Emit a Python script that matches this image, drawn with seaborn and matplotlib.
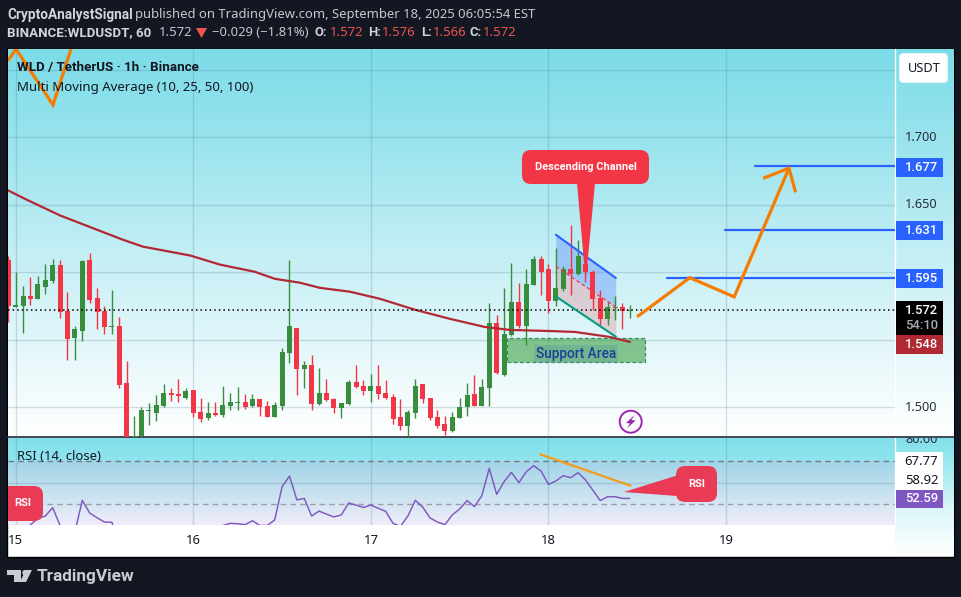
import numpy as np
import pandas as pd
import seaborn as sns
import matplotlib
matplotlib.use("Agg")
import matplotlib.pyplot as plt
from matplotlib.patches import FancyBboxPatch, Polygon, Rectangle, Circle

# ---------- data ----------
hours = list(range(-1, 84))   # hours after 15 Sep 00:00
opens = [1.6094,1.5746,1.5754,1.5826,1.5804,1.5893,1.5937,1.6056,1.5714,1.5513,1.5565,1.6094,1.5811,1.5714,1.5595,1.5603,1.5179,1.4720,1.4784,1.4970,
         1.4955,1.5007,1.5104,1.5097,1.5067,1.5126,1.4963,1.4918,1.4955,1.4940,1.5007,1.5030,1.5037,1.5007,1.5060,1.5007,1.4926,1.5007,1.5402,1.5588,
         1.5283,1.5312,1.5022,1.5104,1.5060,1.4993,1.5022,1.5186,1.5156,1.5119,1.5156,1.5104,1.5074,1.4926,1.4859,1.4955,1.5171,1.5067,1.4926,1.4874,
         1.4821,1.4918,1.5000,1.5097,1.5007,1.5141,1.5625,1.5238,1.5536,1.5781,1.5603,1.5908,1.6101,1.6027,1.5789,1.5878,1.6027,1.5990,1.6064,1.6004,
         1.5811,1.5655,1.5737,1.5744,1.5714]
highs = [1.6120,1.6004,1.5900,1.5967,1.5975,1.6064,1.6101,1.6094,1.5856,1.5603,1.6094,1.6146,1.5885,1.5751,1.5870,1.5670,1.5342,1.4933,1.5000,1.5030,
         1.5089,1.5171,1.5141,1.5208,1.5141,1.5126,1.5067,1.5037,1.5037,1.5156,1.5104,1.5149,1.5097,1.5097,1.5060,1.5045,1.5037,1.5439,1.6094,1.5588,
         1.5342,1.5387,1.5290,1.5208,1.5067,1.5030,1.5201,1.5312,1.5201,1.5246,1.5312,1.5201,1.5097,1.5060,1.4978,1.5208,1.5171,1.5067,1.4978,1.4933,
         1.4963,1.5067,1.5179,1.5238,1.5208,1.5774,1.5684,1.5885,1.6071,1.5923,1.6027,1.6123,1.6123,1.6064,1.6183,1.6049,1.6347,1.6242,1.6118,1.6019,
         1.5870,1.5781,1.5826,1.5774,1.5760]
lows = [1.5635,1.5746,1.5553,1.5761,1.5804,1.5841,1.5923,1.5662,1.5350,1.5350,1.5491,1.5774,1.5580,1.5543,1.5543,1.5141,1.4650,1.4680,1.4767,1.4866,
        1.4896,1.5000,1.5045,1.5037,1.5060,1.4926,1.4888,1.4903,1.4933,1.4926,1.4978,1.4978,1.4985,1.5000,1.4933,1.4926,1.4926,1.4978,1.5327,1.5089,
        1.5141,1.4978,1.5015,1.5045,1.4955,1.4918,1.5015,1.5141,1.5089,1.5037,1.5060,1.5060,1.4874,1.4829,1.4774,1.4918,1.5030,1.4903,1.4844,1.4792,
        1.4814,1.4918,1.4933,1.5007,1.5007,1.5007,1.5246,1.5231,1.5528,1.5588,1.5461,1.5908,1.5833,1.5699,1.5751,1.5863,1.5833,1.5982,1.5930,1.5722,
        1.5610,1.5610,1.5647,1.5580,1.5660]
closes = [1.5754,1.5759,1.5826,1.5804,1.5915,1.5945,1.6056,1.5707,1.5506,1.5580,1.6086,1.5796,1.5707,1.5595,1.5603,1.5164,1.4700,1.4784,1.4978,1.4978,
          1.5015,1.5104,1.5089,1.5082,1.5119,1.4955,1.4911,1.4955,1.4940,1.5015,1.5037,1.5037,1.5000,1.5060,1.5000,1.4926,1.5015,1.5409,1.5603,1.5283,
          1.5312,1.5022,1.5104,1.5052,1.4993,1.5030,1.5186,1.5149,1.5119,1.5156,1.5097,1.5067,1.4911,1.4859,1.4963,1.5156,1.5060,1.4918,1.4859,1.4821,
          1.4926,1.5000,1.5089,1.5007,1.5149,1.5625,1.5253,1.5543,1.5781,1.5603,1.5915,1.6101,1.6004,1.5789,1.5885,1.6027,1.5990,1.6123,1.6004,1.5804,
          1.5655,1.5744,1.5744,1.5714,1.5720]
ma_hours = [-1.04,1.4,6,14.4,17.2,23.6,27.6,32.3,35,38.4,41.1,45.2,49.2,54,58.7,63.4,66.8,72.2,75.6,80.3,83]
ma_vals = [1.6607,1.6540,1.6421,1.6243,1.6190,1.6124,1.6057,1.6004,1.5952,1.5923,1.5885,1.5856,1.5804,1.5722,1.5655,1.5595,1.5573,1.5565,1.5558,1.5521,1.5484]
rsi_hours = list(range(0, 84))
rsi_vals = [30,32,40.4,43.3,44.4,48.3,40,30,37,51.7,45.8,43.6,41.6,41.5,30,20,21,25,27,29,32,31,31,32,30,28,29,30,
            40,41,40.8,40.4,42.2,40,40,42.6,58,63,51.9,52.6,44.4,46.7,45.3,44,44.9,50.5,49.5,48.4,49.5,48,46.6,41,
            39.6,44.4,51.7,48.6,43.5,41.6,40.4,44.9,47.7,51.6,48.8,53.9,66.6,54.5,60.4,64.7,59.9,65,67.8,65.3,59.1,60.7,
            63.2,62.2,64.6,61.2,56.4,51.6,53.4,53.4,52.6,52.6]
day_ticks = [0, 24, 48, 72, 96]
day_labels = ["15", "16", "17", "18", "19"]
price_ticks = [1.5, 1.55, 1.6, 1.65, 1.7, 1.75]
price_labels = ["1.700", "1.650", "1.500"]
level_vals = [1.5960, 1.6315, 1.6790]
level_starts = [88, 95.9, 99.9]
level_labels = ["1.595", "1.631", "1.677"]
forecast_h = [83.96, 91.1, 97.1, 104.5]
forecast_p = [1.5670, 1.5960, 1.5818, 1.6771]
arrow_h = [101, 104.5, 105.4]
arrow_p = [1.6696, 1.6771, 1.6592]
old_h = [-1.04, 0.04, 5.04, 7.47]
old_p = [1.7567, 1.7654, 1.7240, 1.7654]
chan_h = [73, 81.1]
chan_top = [1.6278, 1.5958]
chan_mid = [1.6044, 1.5742]
chan_bot = [1.5821, 1.5523]
support_h = [66.35, 85.1]
support_p = [1.5337, 1.5511]
rsi_trend_h = [70.9, 83.1]
rsi_trend_v = [73.1, 58.5]

# ---------- setup ----------
sns.set_theme(style="white")
plt.rcParams["font.family"] = ["Noto Sans", "DejaVu Sans"]
BOLD = ["Roboto", "DejaVu Sans"]
W, H = 962, 597
DARK = "#131722"
GREEN, RED = "#388e3c", "#f23645"
fig = plt.figure(figsize=(W / 100, H / 100), dpi=100, facecolor=DARK)

def px_axes(x0, y0, x1, y1, z):
    return fig.add_axes([x0 / W, 1 - y1 / H, (x1 - x0) / W, (y1 - y0) / H], zorder=z)

def grad(ax, x0, x1, y0, y1, ys, cols, z=1.5):
    t = np.linspace(y0, y1, 256)
    img = np.stack([np.interp(t, ys, [c[i] for c in cols]) for i in range(3)], axis=1)[:, None, :] / 255
    ax.imshow(img, extent=[x0, x1, y1, y0], aspect="auto", zorder=z, interpolation="bilinear")

# background layer (pixel coordinates)
bg = px_axes(0, 0, W, H, 0)
bg.set_facecolor(DARK)
bg.add_patch(Rectangle((7.5, 48.5), 946.5, 508, fc="white", ec="black", lw=1))
grad(bg, 8, 954, 49, 437, [49, 120, 200, 280, 360, 437],
     [(124, 220, 232), (146, 226, 236), (176, 233, 241), (205, 241, 246), (232, 248, 251), (255, 255, 255)])
grad(bg, 8, 895, 438, 461, [438, 461], [(128, 224, 234), (145, 228, 238)])
grad(bg, 8, 895, 461, 525, [461, 480, 505, 525],
     [(160, 212, 232), (183, 220, 236), (215, 230, 243), (241, 236, 249)])
grad(bg, 895, 954, 438, 556, [438, 470, 510, 556],
     [(128, 224, 234), (165, 234, 241), (220, 246, 249), (255, 255, 255)])
bg.plot([895, 895], [49, 525], color="white", lw=1, zorder=2)
bg.plot([7, 954], [437, 437], color="#1f2a33", lw=1.2, zorder=2)
bg.set_xlim(0, W); bg.set_ylim(H, 0)
bg.set_xticks([]); bg.set_yticks([])
for s in bg.spines.values():
    s.set_visible(False)

# ---------- main price pane ----------
ax = px_axes(8, 49, 895, 437, 1)
ax.patch.set_alpha(0)
ax.set_xlim(-1.04, 118.83)
ax.set_ylim(1.4780, 1.7654)
GRID = (0.30, 0.50, 0.58)
ax.set_xticks(day_ticks); ax.set_yticks(price_ticks)
ax.grid(True, color=GRID, alpha=0.24, lw=1); ax.set_axisbelow(True)
ax.tick_params(left=False, bottom=False, labelleft=False, labelbottom=False)
for s in ax.spines.values():
    s.set_visible(False)

# channel and support area drawn under the candles
ax.fill_between(chan_h, chan_mid, chan_top, color="#2962ff", alpha=0.28, lw=0, zorder=2)
ax.fill_between(chan_h, chan_bot, chan_mid, color=RED, alpha=0.2, lw=0, zorder=2)
ax.add_patch(Rectangle((support_h[0], support_p[0]), support_h[1] - support_h[0], support_p[1] - support_p[0],
                       fc=(0.30, 0.66, 0.33, 0.65), ec="#3d8b58", lw=0.9, ls=(0, (3, 2)), zorder=2))

# candles
df = pd.DataFrame({"h": hours, "o": opens, "hi": highs, "lo": lows, "c": closes})
df["col"] = np.where(df.c >= df.o, GREEN, RED)
ax.vlines(df.h, df.lo, df.hi, colors=df.col, lw=1.0, zorder=3)
ax.bar(df.h, (df.c - df.o).abs().clip(lower=0.0007), bottom=df[["o", "c"]].min(axis=1),
       width=0.68, color=df.col, lw=0, zorder=3)

sns.lineplot(x=ma_hours, y=ma_vals, ax=ax, color="#b22833", lw=1.6, zorder=4, estimator=None, sort=False)
ax.axhline(closes[-1], color="black", lw=1.1, ls=(0, (1, 2)), zorder=4)
ax.plot(chan_h, chan_top, color="#2962ff", lw=1.5, zorder=5)
ax.plot(chan_h, chan_mid, color=RED, lw=0.9, ls=(0, (3, 2)), zorder=5)
ax.plot(chan_h, chan_bot, color="#089981", lw=1.5, zorder=5)
for v, s in zip(level_vals, level_starts):
    ax.plot([s, 118.83], [v, v], color="#2962ff", lw=1.6, zorder=5)
ORANGE = "#f57c00"
for hs, ps in ((old_h, old_p), (forecast_h, forecast_p), (arrow_h, arrow_p)):
    ax.plot(hs, ps, color=ORANGE, lw=2.3, zorder=6, solid_joinstyle="miter", solid_capstyle="butt")
ax.text((support_h[0] + support_h[1]) / 2, 1.5398, "Support Area", color="#1b3f94", fontsize=9.8,
        family=BOLD, fontweight="medium", ha="center", va="center", zorder=7,
        bbox=dict(fc=(0.25, 0.55, 0.6, 0.25), ec="none", pad=1.5))
ax.set_xlabel(""); ax.set_ylabel("")

# ---------- RSI pane ----------
rx = px_axes(8, 438, 895, 525, 1)
rx.patch.set_alpha(0)
rx.set_xlim(-1.04, 118.83)
rx.set_ylim(70 - (525 - 461) / 2.15, 70 + (461 - 438) / 2.15)
rx.set_xticks(day_ticks); rx.set_yticks([60])
rx.grid(True, color=GRID, alpha=0.24, lw=1); rx.set_axisbelow(True)
rx.tick_params(left=False, bottom=False, labelleft=False, labelbottom=False)
for s in rx.spines.values():
    s.set_visible(False)
rx.axhline(70, color="#787b86", lw=1, ls=(0, (4, 3)), zorder=2)
rx.axhline(50, color="#9a9da8", lw=1, ls=(0, (4, 3)), zorder=2)
sns.lineplot(x=rsi_hours, y=rsi_vals, ax=rx, color="#7e57c2", lw=1.05, zorder=3, estimator=None, sort=False)
rx.plot(rsi_trend_h, rsi_trend_v, color="#f59c1a", lw=1.6, zorder=4)
rx.set_xlabel(""); rx.set_ylabel("")

# ---------- overlay: callouts, labels, chrome (pixel coordinates) ----------
ov = px_axes(0, 0, W, H, 5)
ov.set_xlim(0, W); ov.set_ylim(H, 0); ov.axis("off"); ov.patch.set_alpha(0)

def callout(x0, y0, x1, y1, tip, color, rad=9):
    if tip:
        ov.add_patch(Polygon(tip, closed=True, fc=color, ec="none", zorder=8))
    ov.add_patch(FancyBboxPatch((x0 + rad, y0 + rad), x1 - x0 - 2 * rad, y1 - y0 - 2 * rad,
                                boxstyle=f"round,pad={rad},rounding_size={rad}", fc=color, ec="none", zorder=8))

callout(522, 150, 649, 184, [(577, 183), (595, 183), (585.7, 282)], RED)
ov.text(585.5, 167.5, "Descending Channel", color="white", fontsize=7.9, family=BOLD, fontweight="bold",
        ha="center", va="center", zorder=9)
RSI_RED = "#e93b55"
callout(676, 466, 717, 502, [(677, 475.5), (677, 496), (624, 492)], RSI_RED)
ov.text(696.5, 484, "RSI", color="white", fontsize=8, family=BOLD, fontweight="bold", ha="center", va="center", zorder=9)
callout(8, 486, 43, 521, None, RSI_RED)
ov.add_patch(Rectangle((8, 486), 12, 35, fc=RSI_RED, ec="none", zorder=8))
ov.text(23, 502.5, "RSI", color="white", fontsize=8, family=BOLD, fontweight="bold", ha="center", va="center", zorder=9)

# bolt marker
ov.add_patch(Circle((630.7, 421.7), 11, fc="none", ec="#9c27b0", lw=1.4, zorder=8))
ov.add_patch(Polygon([(634.5, 415), (626, 423), (630, 423.5), (627, 428.5), (635.5, 420.5), (631.5, 420)],
                     closed=True, fc="#9c27b0", ec="none", zorder=8))

TXT = "#d1d4dc"
FS = 9.4
def t(x, y, s, color=TXT, weight="normal", fs=FS, ha="left", **kw):
    if weight != "normal":
        kw.setdefault("family", BOLD)
    return ov.text(x, y, s, color=color, fontweight=weight, fontsize=fs, ha=ha, va="center", zorder=10, **kw)

# header
t(7, 14.5, "CryptoAnalystSignal", weight="bold", fs=9.8)
t(135, 14.5, "published on TradingView.com, September 18, 2025 06:05:54 EST", color="#c4c7d0")
t(7, 33, "BINANCE:WLDUSDT, 60", weight="bold", fs=9.65)
t(159, 33, "1.572", color="#c4c7d0")
ov.add_patch(Polygon([(196, 28), (207, 28), (201.5, 38)], closed=True, fc="#ef5350", ec="none"))
t(212, 33, "\u22120.029 (\u22121.81%)", color="#c4c7d0")
for x, lab, vx, val in ((315, "O:", 330, "1.572"), (368, "H:", 382, "1.576"), (421, "L:", 433, "1.566"), (470, "C:", 483, "1.572")):
    t(x, 33, lab, weight="bold")
    t(vx, 33, val, color="#ef5350")

# pane legends
t(17, 67.5, "WLD / TetherUS \u00b7 1h \u00b7 Binance", color="#131722", weight="bold", fs=9.6)
t(17, 87, "Multi Moving Average (10, 25, 50, 100)", color="#131722", fs=9.5)
t(17, 456.5, "RSI (14, close)", color="#131722")

# price axis
ov.add_patch(FancyBboxPatch((902, 56), 43, 24, boxstyle="round,pad=2.5,rounding_size=4", fc="white", ec="#e4f3f6", lw=0.8))
t(924, 68, "USDT", color="#131722", ha="center", fs=9.2)
for s, y in zip(price_labels, (137.5, 205, 407.5)):
    t(921.5, y, s, color="#2a2e39", ha="center", fs=9.2)
lab80 = ov.text(921.5, 439.5, "80.00", color="#2a2e39", fontsize=9.2, ha="center", va="center", zorder=3)
lab80.set_clip_path(Rectangle((895, 438), 60, 20, transform=ov.transData))
lab80.set_clip_on(True)

def badge(y0, y1, color, s, tc="white", y=None, weight="medium"):
    ov.add_patch(Rectangle((896, y0), 47.5, y1 - y0, fc=color, ec="none", zorder=9))
    t(921.5, (y0 + y1) / 2 if y is None else y, s, color=tc, ha="center", weight=weight, fs=9.4)

for s, yc in zip(level_labels, (278.3, 230, 167.5)):
    badge(yc - 9.5, yc + 9.5, "#2962ff", s)
badge(301, 335, "black", "1.572", y=310.5)
t(921.5, 325.5, "54:10", color="#a8abb3", ha="center", weight="medium", fs=9.4)
badge(335, 354, "#b22833", "1.548")
badge(452, 471, "white", "67.77", tc="#131722", y=461.5, weight="normal")
badge(471, 490, "white", "58.92", tc="#131722", y=480.5, weight="normal")
badge(490, 508, "#7e57c2", "52.59")

# time axis
for h, s in zip(day_ticks, day_labels):
    t(15.7 + 7.4 * h, 540.5, s, color="#131722", ha="center", fs=9.4)

# footer logo
LOGO = "#c9cbd2"
ov.add_patch(Polygon([(7, 570), (20.7, 570), (20.7, 582), (13.7, 582), (13.7, 575.3), (7, 575.3)], closed=True, fc=LOGO, ec="none"))
ov.add_patch(Circle((25, 572.7), 2.7, fc=LOGO, ec="none"))
ov.add_patch(Polygon([(26, 582), (20, 582), (25.5, 570), (32, 570)], closed=True, fc=LOGO, ec="none"))
t(37, 577, "TradingView", color=LOGO, weight="bold", fs=12.4)

fig.savefig("out.png", dpi=100, facecolor=DARK)
